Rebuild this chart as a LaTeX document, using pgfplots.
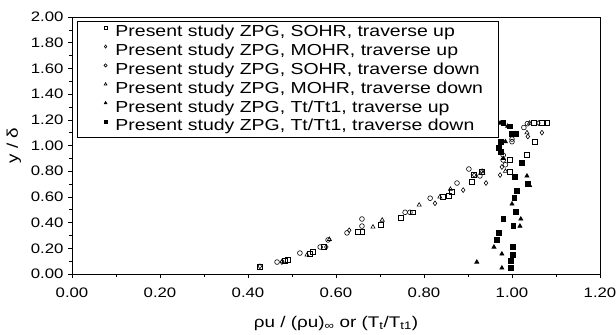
\documentclass[border=0pt]{standalone}
\usepackage{fontspec}
\setmainfont{Liberation Sans}[FakeStretch=1.22]
\usepackage{pgfplots}
\pgfplotsset{compat=1.18}

\begin{document}
\begin{tikzpicture}
\useasboundingbox (-72bp,-61bp) rectangle (544bp,274bp);
\begin{axis}[
  scale only axis,
  width=528bp, height=257bp,
  xmin=0, xmax=1.2, ymin=0, ymax=2,
  xtick distance=0.2, ytick distance=0.2,
  minor tick num=1,
  tick align=outside,
  xtick pos=bottom, ytick pos=left,
  major tick length=4bp, minor tick length=2.5bp,
  axis line style={line width=0.7pt},
  tick style={line width=0.6pt, black},
  scaled ticks=false,
  tick label style={font=\fontsize{13.8}{13.8}\selectfont,
    /pgf/number format/fixed, /pgf/number format/fixed zerofill,
    /pgf/number format/precision=2, /pgf/number format/assume math mode=true},
  xticklabel style={yshift=-6bp},
  yticklabel style={xshift=-1bp},
  every axis y label/.style={at={(axis description cs:0,0.5)}, xshift=-58bp, rotate=90, anchor=center},
  every axis x label/.style={at={(axis description cs:0.5,0)}, yshift=-53bp, anchor=base},
  label style={font=\fontsize{15.5}{15.5}\selectfont},
  xlabel={ρu / (ρu)\textsubscript{∞} or (T\textsubscript{t}/T\textsubscript{t1})},
  ylabel={y / δ},
  legend style={at={(axis cs:0,2)}, anchor=north west, xshift=5bp, yshift=-4bp,
    draw=black, line width=0.6pt, inner xsep=15bp, inner ysep=1.6bp,
    font=\fontsize{16}{16}\selectfont,
    nodes={inner sep=0.6bp, text height=13.5bp, text depth=4.1bp},
    legend cell align=left},
  legend image code/.code={\path (-13bp,0) (9bp,0);
    \draw[#1, mark size=1.6pt] plot coordinates {(0bp,4.5bp)};},
  every axis plot/.append style={only marks, black, line width=0.6pt, mark size=2.4pt},
]
\addplot[mark=square] coordinates {
(0.427,0.054) (0.484,0.100) (0.490,0.109) (0.541,0.160) (0.548,0.171) (0.573,0.210)
(0.650,0.327) (0.660,0.327) (0.702,0.380) (0.748,0.436) (0.775,0.480) (0.843,0.600)
(0.857,0.607) (0.864,0.640) (0.909,0.716) (0.914,0.770) (0.932,0.794) (0.995,0.794)
(0.995,0.887) (1.034,0.925) (1.052,1.030) (1.050,1.175) (1.068,1.175) (1.080,1.175)};
\addlegendentry{Present study ZPG, SOHR, traverse up}
\addplot[mark=diamond] coordinates {
(0.427,0.060) (0.477,0.093) (0.578,0.210) (0.630,0.340) (0.825,0.550) (0.889,0.653)
(0.941,0.708) (0.914,0.770) (0.973,0.770) (0.977,0.833) (1.036,1.070) (1.068,1.100)
(1.060,1.175)};
\addlegendentry{Present study ZPG, MOHR, traverse up}
\addplot[mark=o] coordinates {
(0.466,0.093) (0.518,0.163) (0.564,0.210) (0.582,0.265) (0.625,0.320) (0.659,0.373)
(0.659,0.428) (0.757,0.480) (0.768,0.480) (0.814,0.590) (0.875,0.708) (0.902,0.817)
(0.927,0.763) (0.980,0.925) (0.980,0.887) (1.000,1.030) (1.000,1.050) (0.985,0.850)
(1.027,1.140) (1.035,1.170)};
\addlegendentry{Present study ZPG, SOHR, traverse down}
\addplot[mark=triangle] coordinates {
(0.478,0.100) (0.534,0.148) (0.585,0.270) (0.684,0.366) (0.705,0.420) (0.789,0.537)
(0.836,0.600) (0.860,0.660) (0.932,0.800) (0.934,0.786) (1.034,1.100) (1.040,1.175)
(0.985,0.800)};
\addlegendentry{Present study ZPG, MOHR, traverse down}
\addplot[mark=triangle*, fill=black] coordinates {
(0.973,1.175) (0.990,1.150) (0.985,1.030) (0.980,0.900) (1.034,0.763) (1.040,0.690)
(1.000,0.545) (1.020,0.428) (1.018,0.373) (0.959,0.210) (0.977,0.156) (0.920,0.093)
(0.977,0.047)};
\addlegendentry{Present study ZPG, Tt/Tt1, traverse up}
\addplot[mark=square*, fill=black] coordinates {
(0.980,1.175) (0.995,1.150) (1.000,1.090) (1.010,1.090) (0.975,1.030) (0.970,0.980)
(0.975,0.950) (1.023,0.864) (1.007,0.755) (1.036,0.700) (1.011,0.646) (1.005,0.590)
(1.009,0.483) (0.980,0.428) (1.003,0.373) (0.970,0.320) (0.966,0.265) (1.002,0.210)
(1.002,0.148) (0.998,0.100) (0.998,0.050)};
\addlegendentry{Present study ZPG, Tt/Tt1, traverse down}
\end{axis}
\end{tikzpicture}
\end{document}
